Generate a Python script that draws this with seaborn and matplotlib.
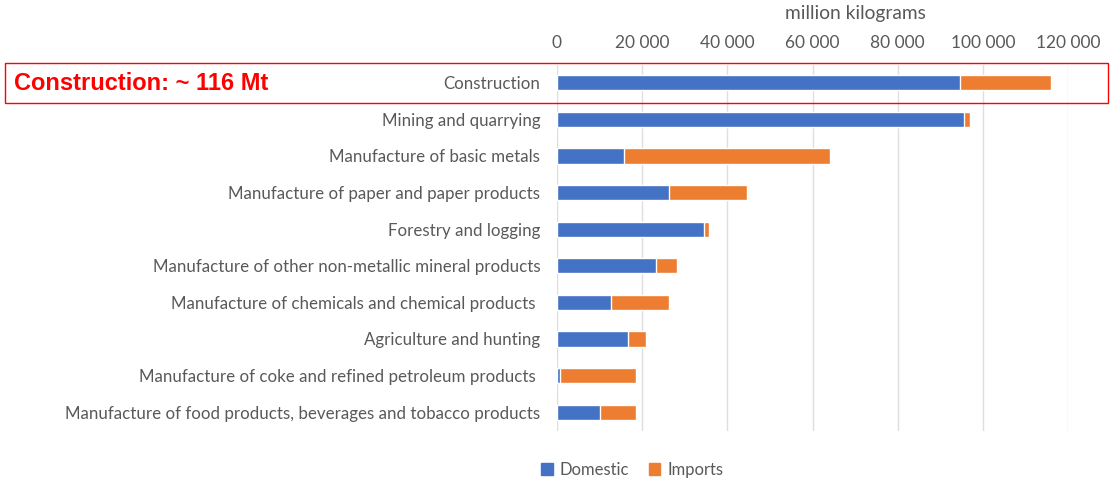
import pandas as pd
import matplotlib.pyplot as plt
import matplotlib.patches as patches
import seaborn as sns

# Values (million kilograms)
categories = [
    'Construction',
    'Mining and quarrying',
    'Manufacture of basic metals',
    'Manufacture of paper and paper products',
    'Forestry and logging',
    'Manufacture of other non-metallic mineral products',
    'Manufacture of chemicals and chemical products ',
    'Agriculture and hunting',
    'Manufacture of coke and refined petroleum products ',
    'Manufacture of food products, beverages and tobacco products',
]
domestic = [94700, 95500, 15700, 26200, 34500, 23300, 12600, 16700, 600, 10100]
imports = [21300, 1600, 48300, 18500, 1300, 4900, 13600, 4300, 17900, 8400]
x_ticks = [0, 20000, 40000, 60000, 80000, 100000, 120000]

df = pd.DataFrame({'category': categories, 'Domestic': domestic, 'Imports': imports})
df['total'] = df['Domestic'] + df['Imports']

blue = '#4472C4'
orange = '#ED7D31'
grey_text = '#595959'

sns.set_style('white')
plt.rcParams['font.family'] = ['Lato', 'DejaVu Sans']

fig = plt.figure(figsize=(11.1, 4.82), dpi=100)
ax = fig.add_axes([557 / 1110, 1 - 430.5 / 482, (1068 - 557) / 1110, 366 / 482])

# stacked bars: total (imports on the end) first, domestic over it
sns.barplot(data=df, y='category', x='total', color=orange, orient='h',
            width=0.42, ax=ax, saturation=1, zorder=3)
sns.barplot(data=df, y='category', x='Domestic', color=blue, orient='h',
            width=0.42, ax=ax, saturation=1, zorder=4)

ax.set_xlim(0, 120000)
ax.set_xticks(x_ticks)
ax.set_xticklabels([f'{t:,}'.replace(',', ' ') for t in x_ticks])
ax.xaxis.tick_top()
ax.tick_params(axis='both', length=0, labelcolor=grey_text)
ax.tick_params(axis='x', pad=10, labelsize=12.5)
ax.tick_params(axis='y', pad=12, labelsize=12.2)
ax.grid(axis='x', color='#DEDEDE', linewidth=1.0, zorder=0)
ax.set_axisbelow(True)
for s in ax.spines.values():
    s.set_visible(False)
ax.set_xlabel('')
ax.set_ylabel('')

fig.text(855 / 1110, 1 - 14 / 482, 'million kilograms', ha='center', va='center',
         fontsize=13.8, color=grey_text)

# legend
handles = [patches.Patch(color=blue, label='Domestic'),
           patches.Patch(color=orange, label='Imports')]
fig.legend(handles=handles, loc='center', bbox_to_anchor=(632 / 1110, 1 - 470 / 482),
           ncol=2, frameon=False, fontsize=12, labelcolor=grey_text,
           handlelength=0.7, handleheight=0.7, handletextpad=0.4, columnspacing=1.2)

# red highlight around the construction row
box = patches.Rectangle((5 / 1110, 1 - 103 / 482), 1103 / 1110, 40 / 482,
                        transform=fig.transFigure, fill=False, edgecolor='red',
                        linewidth=1.0, zorder=10)
fig.add_artist(box)
fig.text(14 / 1110, 1 - 84 / 482, 'Construction: ~ 116 Mt', ha='left', va='center',
         fontsize=17, fontweight='bold', color='red', family='Liberation Sans')

fig.savefig('out.png', dpi=100)
